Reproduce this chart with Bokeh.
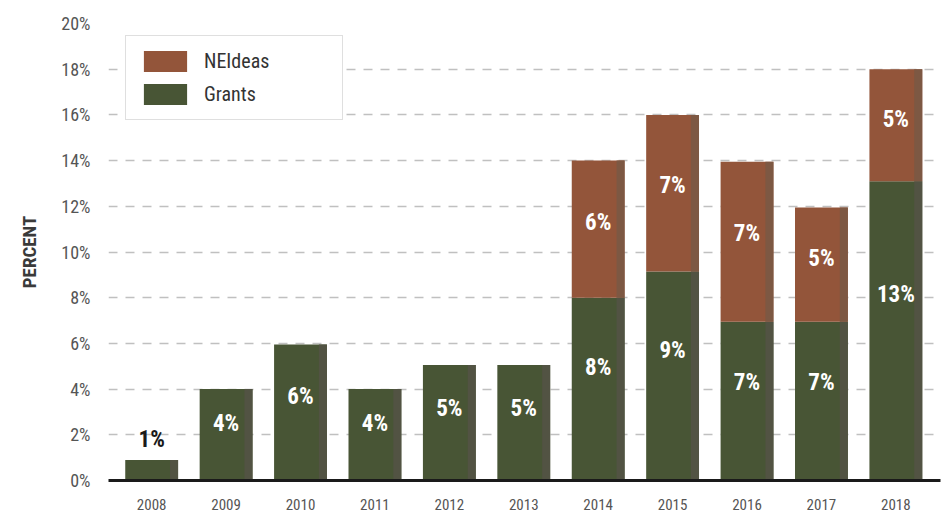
from bokeh.plotting import figure
from bokeh.models import Range1d, FixedTicker, ColumnDataSource, Legend, LegendItem, CustomJSTickFormatter
from bokeh.embed import file_html
from bokeh.resources import INLINE
from bokeh.core.properties import value

years = [2008, 2009, 2010, 2011, 2012, 2013, 2014, 2015, 2016, 2017, 2018]
grants = [0.9, 4.0, 5.95, 4.0, 5.05, 5.05, 8.0, 9.15, 6.95, 6.95, 13.1]
neideas = [0, 0, 0, 0, 0, 0, 6.0, 6.85, 7.0, 5.0, 4.9]
grants_labels = ["1%", "4%", "6%", "4%", "5%", "5%", "8%", "9%", "7%", "7%", "13%"]
neideas_labels = ["", "", "", "", "", "", "6%", "7%", "7%", "5%", "5%"]
y_ticks = [0, 2, 4, 6, 8, 10, 12, 14, 16, 18, 20]

FONT = "Roboto Condensed"
C_GR = "#485535"
C_NE = "#93553A"
C_GR_S = "#525343"
C_NE_S = "#7D5843"

totals = [g + n for g, n in zip(grants, neideas)]
bw = 0.71
src = ColumnDataSource(dict(
    x=years, grants=grants, neideas=neideas, totals=totals,
    xs=[y + bw / 2 - 0.054 for y in years],
))

p = figure(width=949, height=512, output_backend="svg", toolbar_location=None,
           x_range=Range1d(2007.42, 2018.6), y_range=Range1d(0, 20),
           min_border_left=108, min_border_right=9, min_border_top=23, min_border_bottom=31)
p.outline_line_color = None
p.background_fill_color = "white"
p.border_fill_color = "white"

# bars
p.vbar(x="x", bottom=0, top="grants", width=bw, source=src, color=C_GR, line_color=None)
p.vbar(x="x", bottom="grants", top="totals", width=bw, source=src, color=C_NE, line_color=None)
# darker right edge strip
p.vbar(x="xs", bottom=0, top="grants", width=0.108, source=src, color=C_GR_S, line_color=None)
p.vbar(x="xs", bottom="grants", top="totals", width=0.108, source=src, color=C_NE_S, line_color=None)

# labels
lx, ly, lt, lc = [], [], [], []
for yr, g, n, gl, nl in zip(years, grants, neideas, grants_labels, neideas_labels):
    if g < 2:
        lx.append(yr); ly.append(g + 0.9); lt.append(gl); lc.append("#1a1a1a")
    else:
        lx.append(yr); ly.append(g * 0.62); lt.append(gl); lc.append("white")
    if nl:
        lx.append(yr); ly.append(g + n * 0.55); lt.append(nl); lc.append("white")
p.text(x=lx, y=ly, text=lt, text_color=lc, text_align="center", text_baseline="middle",
       text_font=value(FONT), text_font_style="bold", text_font_size="23px")

# axes
p.xaxis.ticker = FixedTicker(ticks=years)
p.xaxis.axis_line_color = "#1a1a1a"
p.xaxis.axis_line_width = 3
p.xaxis.major_tick_line_color = None
p.xaxis.minor_tick_line_color = None
p.xaxis.major_label_text_font = FONT
p.xaxis.major_label_text_font_size = "15px"
p.xaxis.major_label_text_color = "#555555"
p.xaxis.major_label_standoff = 12

p.yaxis.ticker = FixedTicker(ticks=y_ticks)
p.yaxis.formatter = CustomJSTickFormatter(code="return tick + '%';")
p.yaxis.axis_line_color = None
p.yaxis.major_tick_line_color = None
p.yaxis.minor_tick_line_color = None
p.yaxis.major_label_text_font = FONT
p.yaxis.major_label_text_font_size = "18px"
p.yaxis.major_label_text_color = "#555555"
p.yaxis.major_label_standoff = 12
p.yaxis.axis_label = "PERCENT"
p.yaxis.axis_label_text_font = FONT
p.yaxis.axis_label_text_font_style = "bold"
p.yaxis.axis_label_text_font_size = "19px"
p.yaxis.axis_label_text_color = "#3a3a3a"
p.yaxis.axis_label_standoff = 17

p.xgrid.grid_line_color = None
p.ygrid.grid_line_color = "#c0c0c0"
p.ygrid.grid_line_dash = "9 8"
p.ygrid.grid_line_width = 1.5

# legend
r_ne = p.vbar(x=[2000], top=[0], width=0.1, color=C_NE, line_color=None)
r_gr = p.vbar(x=[2000], top=[0], width=0.1, color=C_GR, line_color=None)
legend = Legend(items=[LegendItem(label="NEIdeas", renderers=[r_ne]),
                       LegendItem(label="Grants", renderers=[r_gr])],
                location=(17, 360))
legend.label_text_font = FONT
legend.label_text_font_size = "20px"
legend.label_text_color = "#333333"
legend.glyph_width = 54
legend.glyph_height = 26
legend.label_height = 26
legend.spacing = 7
legend.padding = 12
legend.margin = 0
legend.label_standoff = 12
legend.label_width = 126
legend.border_line_color = "#bfbfbf"
legend.border_line_width = 1
legend.background_fill_alpha = 1
p.add_layout(legend)

open("out.html", "w").write(file_html(p, INLINE))
